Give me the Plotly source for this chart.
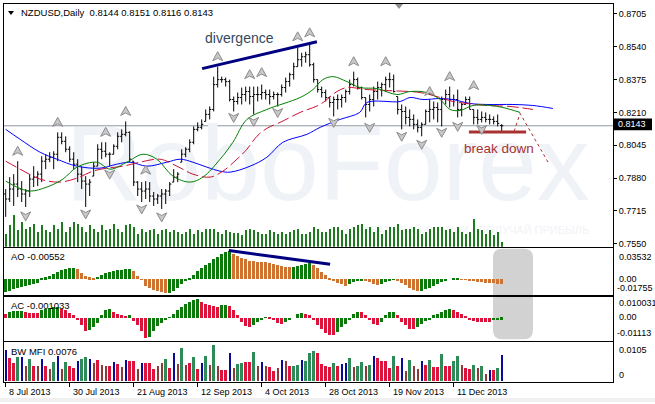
import plotly.graph_objects as go

W, H = 655, 404
def PX(x): return x / W
def PY(y): return 1 - y / H

FONT = "Liberation Sans"

# ---------------- data ----------------
date_idx = [0, 16, 32, 48, 64, 80, 96, 112]
date_labels = ["8 Jul 2013", "30 Jul 2013", "21 Aug 2013", "12 Sep 2013",
               "4 Oct 2013", "28 Oct 2013", "19 Nov 2013", "11 Dec 2013"]

price_ticks = [0.8705, 0.8540, 0.8375, 0.8210, 0.8045, 0.7880, 0.7715, 0.7550]

price_high = [0.7825,0.7885,0.7900,0.7965,0.7865,0.7825,0.7900,0.7940,0.7915,0.7990,
              0.8000,0.8010,0.8015,0.8110,0.8110,0.8090,0.8040,0.8010,0.7975,0.7940,
              0.7890,0.7875,0.7960,0.8050,0.8060,0.8060,0.8010,0.8050,0.8110,0.8125,
              0.8165,0.8115,0.7965,0.7865,0.7860,0.7865,0.7860,0.7810,0.7800,0.7825,
              0.7825,0.7860,0.7925,0.7910,0.8025,0.8035,0.8075,0.8140,0.8160,0.8175,
              0.8225,0.8240,0.8390,0.8440,0.8390,0.8385,0.8375,0.8290,0.8310,0.8335,
              0.8340,0.8340,0.8340,0.8340,0.8350,0.8325,0.8325,0.8315,0.8310,0.8350,
              0.8385,0.8410,0.8460,0.8535,0.8510,0.8515,0.8560,0.8460,0.8375,0.8340,
              0.8325,0.8290,0.8290,0.8300,0.8300,0.8325,0.8375,0.8415,0.8385,0.8340,
              0.8285,0.8300,0.8340,0.8365,0.8360,0.8390,0.8410,0.8400,0.8290,0.8250,
              0.8240,0.8225,0.8200,0.8175,0.8160,0.8225,0.8275,0.8265,0.8260,0.8290,
              0.8325,0.8340,0.8300,0.8325,0.8260,0.8290,0.8290,0.8225,0.8225,0.8215,
              0.8210,0.8200,0.8190,0.8200,0.8151]
price_low = [0.7685,0.7760,0.7740,0.7785,0.7760,0.7735,0.7785,0.7835,0.7840,0.7860,
             0.7925,0.7960,0.7925,0.7965,0.8050,0.8010,0.7960,0.7925,0.7860,0.7825,
             0.7735,0.7790,0.7890,0.7940,0.7975,0.7985,0.7940,0.8000,0.8025,0.8060,
             0.8090,0.7960,0.7840,0.7790,0.7760,0.7775,0.7760,0.7740,0.7750,0.7725,
             0.7750,0.7790,0.7860,0.7860,0.7960,0.7985,0.8010,0.8050,0.8115,0.8125,
             0.8165,0.8175,0.8215,0.8335,0.8360,0.8340,0.8265,0.8215,0.8250,0.8250,
             0.8265,0.8250,0.8200,0.8265,0.8275,0.8275,0.8250,0.8275,0.8240,0.8290,
             0.8310,0.8340,0.8375,0.8440,0.8440,0.8460,0.8440,0.8360,0.8310,0.8285,
             0.8265,0.8235,0.8190,0.8225,0.8235,0.8260,0.8300,0.8340,0.8325,0.8275,
             0.8185,0.8215,0.8240,0.8275,0.8290,0.8315,0.8335,0.8310,0.8200,0.8125,
             0.8150,0.8140,0.8125,0.8110,0.8090,0.8150,0.8160,0.8175,0.8160,0.8140,
             0.8250,0.8235,0.8240,0.8185,0.8190,0.8250,0.8225,0.8150,0.8150,0.8160,
             0.8160,0.8150,0.8150,0.8140,0.8116]
price_open = [0.7800,0.7775,0.7825,0.7850,0.7825,0.7800,0.7815,0.7875,0.7885,0.7900,
              0.7965,0.7975,0.7985,0.8000,0.8085,0.8065,0.8025,0.7975,0.7950,0.7900,
              0.7865,0.7850,0.7890,0.7940,0.8025,0.8015,0.8000,0.8000,0.8040,0.8090,
              0.8100,0.8110,0.7965,0.7860,0.7825,0.7815,0.7825,0.7790,0.7775,0.7790,
              0.7800,0.7815,0.7860,0.7885,0.7960,0.8000,0.8025,0.8060,0.8125,0.8135,
              0.8165,0.8200,0.8225,0.8350,0.8375,0.8375,0.8365,0.8275,0.8265,0.8285,
              0.8300,0.8315,0.8290,0.8300,0.8300,0.8310,0.8300,0.8290,0.8300,0.8300,
              0.8335,0.8365,0.8400,0.8440,0.8475,0.8490,0.8500,0.8450,0.8375,0.8325,
              0.8310,0.8285,0.8260,0.8275,0.8275,0.8285,0.8315,0.8350,0.8375,0.8335,
              0.8285,0.8250,0.8275,0.8315,0.8335,0.8350,0.8375,0.8375,0.8290,0.8225,
              0.8215,0.8185,0.8175,0.8150,0.8135,0.8150,0.8215,0.8225,0.8235,0.8225,
              0.8275,0.8300,0.8275,0.8275,0.8225,0.8250,0.8275,0.8225,0.8185,0.8175,
              0.8185,0.8175,0.8175,0.8165,0.8144]
price_close = [0.7775,0.7825,0.7850,0.7825,0.7800,0.7815,0.7875,0.7885,0.7900,0.7965,
               0.7975,0.7985,0.8000,0.8085,0.8065,0.8025,0.7975,0.7950,0.7900,0.7865,
               0.7850,0.7860,0.7940,0.8025,0.8015,0.8000,0.8000,0.8040,0.8090,0.8100,
               0.8110,0.7975,0.7860,0.7825,0.7815,0.7825,0.7790,0.7775,0.7790,0.7800,
               0.7815,0.7850,0.7885,0.7900,0.8000,0.8025,0.8060,0.8125,0.8135,0.8150,
               0.8200,0.8225,0.8350,0.8375,0.8375,0.8365,0.8275,0.8265,0.8285,0.8300,
               0.8315,0.8290,0.8300,0.8300,0.8310,0.8300,0.8290,0.8300,0.8300,0.8335,
               0.8365,0.8400,0.8440,0.8475,0.8490,0.8500,0.8450,0.8375,0.8325,0.8310,
               0.8285,0.8260,0.8275,0.8275,0.8285,0.8315,0.8350,0.8375,0.8335,0.8285,
               0.8250,0.8275,0.8315,0.8335,0.8350,0.8375,0.8375,0.8315,0.8225,0.8215,
               0.8185,0.8175,0.8150,0.8135,0.8150,0.8215,0.8225,0.8235,0.8225,0.8275,
               0.8300,0.8275,0.8275,0.8225,0.8250,0.8275,0.8225,0.8185,0.8175,0.8185,
               0.8175,0.8175,0.8165,0.8155,0.8143]

tick_volume = [12000,20200,29400,15600,23000,16600,18400,21200,13800,20200,
               15600,13800,20200,16600,23000,13800,18400,23000,21200,18400,
               13800,20200,16600,13800,20200,15600,16600,21200,16600,13800,
               20200,21200,18400,12000,16600,13800,15600,16600,12000,15600,
               16600,13800,15600,13800,12000,13800,16600,12000,15600,13800,
               16600,16600,16600,13800,12000,15600,13800,12900,12900,11000,
               15600,16600,15600,13800,12000,12000,15600,13800,12000,13800,
               12000,13800,15600,16600,12000,12000,13800,18400,16600,13800,
               13800,16600,18400,18400,15600,12000,16600,18400,20200,21200,
               16600,18400,13800,18400,12000,15600,18400,18400,21200,15600,
               16600,16600,18400,16600,12000,13800,16600,18400,18400,18400,
               15600,16600,13800,18400,13800,12000,13800,25800,16600,15600,
               12000,15600,11000,13800,4600]

# Alligator-style moving averages (bar position, price)
jaw_x = [0,3.6,8.6,12.8,17.8,23.6,27.8,31.1,35.3,40.3,43.6,46.8,50.3,53.6,56.1,61.1,65.3,
         69.3,75.3,78.6,83.6,88.5,90.3,98.6,101.1,104.3,108.6,111.8,116.1,120.3,126.8,131.8,136.8]
jaw_y = [0.8125,0.8075,0.8010,0.7975,0.7940,0.7930,0.7950,0.7960,0.7940,0.7960,0.7975,0.7960,
         0.7935,0.7915,0.7910,0.7940,0.7985,0.8060,0.8100,0.8135,0.8175,0.8210,0.8260,0.8265,
         0.8285,0.8275,0.8280,0.8275,0.8255,0.8250,0.8250,0.8245,0.8230]
teeth_x = [0,3.6,8.6,13.6,17.8,21.8,25.3,29.3,33.6,38.6,42.8,46.8,51.1,54.3,57.8,60.3,62.8,
           65.3,68.6,73.6,78.6,82.8,85.3,90.3,95.3,103.6,108.6,111.8,115.3,120.3,126.1,131.8]
teeth_y = [0.7965,0.7925,0.7875,0.7860,0.7880,0.7915,0.7930,0.7940,0.7960,0.7975,0.7940,0.7900,
           0.7885,0.7915,0.7975,0.8025,0.8090,0.8130,0.8160,0.8210,0.8250,0.8315,0.8335,0.8325,
           0.8320,0.8310,0.8285,0.8265,0.8255,0.8245,0.8240,0.8225]
lips_x = [0,2.8,6.1,10.3,14.3,17.8,22.8,26.1,30.3,34.3,37.8,41.8,46.1,49.3,53.6,56.8,60.3,
          65.3,73.6,76.8,79.3,81.8,85.3,88.6,92.8,97.8,101.1,105.3,108.6,111.1,113.6,116.8,
          121.1,124.3,128.6]
lips_y = [0.7865,0.7835,0.7815,0.7835,0.7875,0.7935,0.7960,0.7925,0.7960,0.8000,0.7975,0.7890,
          0.7860,0.7885,0.7975,0.8060,0.8175,0.8225,0.8285,0.8325,0.8375,0.8390,0.8365,0.8335,
          0.8330,0.8300,0.8315,0.8310,0.8275,0.8225,0.8220,0.8245,0.8245,0.8235,0.8210]

frac_up_idx = [3, 13, 25, 30, 35, 53, 61, 64, 73, 76, 87, 95, 106, 111, 117]
frac_up_price = [0.8015,0.8160,0.8110,0.8215,0.7920,0.8490,0.8400,0.8410,0.8590,0.8610,
                 0.8465,0.8465,0.8315,0.8390,0.8345]
frac_dn_idx = [5, 20, 26, 34, 39, 57, 62, 68, 82, 91, 99, 104, 109, 113, 119]
frac_dn_price = [0.7690,0.7700,0.7900,0.7725,0.7685,0.8185,0.8165,0.8210,0.8160,0.8135,
                 0.8090,0.8050,0.8110,0.8140,0.8125]

ao = [-0.0160,-0.0140,-0.0120,-0.0105,-0.0090,-0.0078,-0.0066,-0.0055,-0.0040,0.0006,
      0.0025,0.0045,0.0065,0.0090,0.0115,0.0135,0.0142,0.0148,0.0135,0.0075,
      0.0045,0.0025,0.0010,0.0033,0.0055,0.0080,0.0096,0.0110,0.0117,0.0122,
      0.0126,0.0128,0.0100,0.0045,-0.0004,-0.0080,-0.0105,-0.0130,-0.0150,-0.0163,
      -0.0175,-0.0166,-0.0146,-0.0104,-0.0062,-0.0021,0.0021,0.0054,0.0100,0.0137,
      0.0179,0.0208,0.0250,0.0279,0.0312,0.0340,0.03532,0.0320,0.0291,0.0270,
      0.0250,0.0232,0.0225,0.0220,0.0216,0.0212,0.0205,0.0196,0.0180,0.0168,
      0.0158,0.0150,0.0155,0.0166,0.0179,0.0192,0.0205,0.0179,0.0137,0.0096,
      0.0050,0.0021,-0.0012,-0.0042,-0.0062,-0.0083,-0.0062,-0.0035,-0.0025,-0.0015,
      -0.0021,-0.0030,-0.0054,-0.0071,-0.0054,-0.0030,-0.0012,-0.0003,-0.0021,-0.0042,
      -0.0071,-0.0104,-0.0137,-0.0148,-0.0140,-0.0125,-0.0104,-0.0083,-0.0054,-0.0029,
      -0.0012,0.0000,0.0008,0.0012,0.0002,-0.0008,-0.0014,-0.0021,-0.0027,-0.0031,
      -0.0040,-0.0048,-0.0051,-0.0053,-0.00552]

ac = [0.0018,0.0030,0.0034,0.0035,0.0036,0.0030,0.0027,0.0026,0.0025,0.0040,
      0.0048,0.0053,0.0055,0.0056,0.0044,0.0039,0.0027,0.0016,-0.0014,-0.0041,
      -0.0071,-0.0068,-0.0050,-0.0027,0.0016,0.0043,0.0044,0.0030,0.0021,0.0012,
      0.0009,0.0012,-0.0018,-0.0041,-0.0071,-0.01113,-0.0103,-0.0071,-0.0046,-0.0028,
      -0.0014,0.0002,0.0021,0.0039,0.0057,0.0075,0.0084,0.0093,0.010031,0.0084,
      0.0075,0.0066,0.0060,0.0058,0.0066,0.0068,0.0060,0.0039,0.0016,-0.0023,
      -0.0046,-0.0053,-0.0041,-0.0023,-0.0011,-0.0002,-0.0005,-0.0014,-0.0028,-0.0032,
      -0.0023,-0.0014,0.0000,0.0021,0.0025,0.0021,0.0012,-0.0014,-0.0041,-0.0062,
      -0.0082,-0.0094,-0.0095,-0.0077,-0.0050,-0.0032,-0.0014,0.0021,0.0030,0.0029,
      0.0016,-0.0014,-0.0032,-0.0041,-0.0023,0.0016,0.0030,0.0031,0.0012,-0.0023,
      -0.0041,-0.0059,-0.0060,-0.0050,-0.0032,-0.0018,-0.0011,0.0012,0.0021,0.0030,
      0.0043,0.0048,0.0043,0.0030,0.0021,0.0007,-0.0011,-0.0018,-0.0023,-0.0024,
      -0.0025,-0.0026,-0.0014,-0.0011,-0.001033]

bw_mfi = [0.0091,0.0067,0.0053,0.0069,0.0069,0.0043,0.0065,0.0043,0.0043,0.0065,
          0.0043,0.0034,0.0056,0.0072,0.0034,0.0056,0.0043,0.0037,0.0059,0.0065,
          0.0069,0.0065,0.0053,0.0062,0.0048,0.0043,0.0043,0.0056,0.0050,0.0040,
          0.0062,0.0059,0.0057,0.0034,0.0053,0.0053,0.0053,0.0034,0.0043,0.0053,
          0.0065,0.0037,0.0081,0.0050,0.0095,0.0048,0.0053,0.0069,0.0034,0.0053,
          0.0072,0.0048,0.0105,0.0043,0.0031,0.0031,0.0081,0.0038,0.0050,0.0053,
          0.0056,0.0056,0.0084,0.0043,0.0056,0.0043,0.0040,0.0029,0.0038,0.0062,
          0.0059,0.0043,0.0043,0.0048,0.0062,0.0059,0.0081,0.0088,0.0081,0.0050,
          0.0043,0.0040,0.0053,0.0043,0.0050,0.0053,0.0067,0.0040,0.0043,0.0056,
          0.0043,0.0048,0.0072,0.0067,0.0059,0.0057,0.0038,0.0072,0.0043,0.0067,
          0.0029,0.0062,0.0043,0.0034,0.0059,0.0048,0.0062,0.0040,0.0040,0.0078,
          0.0043,0.0043,0.0059,0.0072,0.0048,0.0037,0.0034,0.0048,0.0037,0.0043,
          0.0021,0.0031,0.0031,0.0038,0.0076]
# G = green (MFI up, vol up), R = squat, B = fake, N = fade
bw_state = list("BRRGBNGRNB" "RNGBNGRRBG" "GBNRNNRBRN" "BRRNBRRRNN" "GRBNGNRGRB"
                "GNGNRRBNGG" "RRGNBNRRNB" "NRGGBGGGRR" "RRGRBBGNGG" "NGBRRRRGRB"
                "NGNNBRGRRG" "RRGGNRRGNG" "NBRGB")

# drawn objects (bar position, value)
div_price_x = [49.1, 77.8]
div_price_y = [0.8430, 0.8565]
div_ao_x = [55.8, 81.1]
div_ao_y = [0.0359, 0.0185]
break_x = [115.8, 130.1]
break_y = [0.8112, 0.8112]
proj_x = [127.1, 128.6, 135.6]
proj_y = [0.8115, 0.8205, 0.7960]
last_price = 0.8143

# ---------------- figure ----------------
n = len(price_close)
idx = list(range(n))
XR = [-0.425, 151.825]
PRICE_R = [0.7535, 0.8755]

GREEN = "#0b7a0b"
ORANGE = "#cf7331"
CRIMSON = "#dc143c"
ao_col = [GREEN] + [GREEN if ao[i] > ao[i-1] else ORANGE for i in range(1, n)]
ac_col = [CRIMSON] + [GREEN if ac[i] > ac[i-1] else CRIMSON for i in range(1, n)]
mfi_colors = {"G": "#2e8b57", "R": "#dc143c", "B": "#0a0a9a", "N": "#8b3a3a"}
mfi_width = {"G": 0.75, "R": 0.75, "B": 0.25, "N": 0.25}

fig = go.Figure()

# watermark on base axis (drawn below overlays)
fig.add_trace(go.Scatter(x=[80.5], y=[0.7905], mode="text", text=["RoboForex"],
                         textfont=dict(family=FONT, size=106, color="#eff2f7"),
                         xaxis="x", yaxis="y", hoverinfo="skip"))
fig.add_trace(go.Scatter(x=[115], y=[0.7615], mode="text", text=["ЗАРАБАТЫВАЙ С НАМИ - ПОЛУЧАЙ ПРИБЫЛЬ"],
                         textfont=dict(family=FONT, size=11, color="#f1f3f7"),
                         xaxis="x", yaxis="y", hoverinfo="skip"))

# volumes
fig.add_trace(go.Bar(x=idx, y=tick_volume, width=0.25, marker=dict(color="#1f7a1f", line=dict(width=0)),
                     xaxis="x", yaxis="y5", hoverinfo="skip"))

# price bars
fig.add_trace(go.Ohlc(x=idx, open=price_open, high=price_high, low=price_low, close=price_close,
                      increasing=dict(line=dict(color="black", width=1)),
                      decreasing=dict(line=dict(color="black", width=1)),
                      tickwidth=0.4, xaxis="x", yaxis="y6", hoverinfo="skip"))

fig.add_trace(go.Scatter(x=jaw_x, y=jaw_y, mode="lines", line=dict(color="#0000ff", width=1, shape="spline"),
                         xaxis="x", yaxis="y6", hoverinfo="skip"))
fig.add_trace(go.Scatter(x=teeth_x, y=teeth_y, mode="lines",
                         line=dict(color="#cc1133", width=1, shape="spline", dash="12px,4px"),
                         xaxis="x", yaxis="y6", hoverinfo="skip"))
fig.add_trace(go.Scatter(x=lips_x, y=lips_y, mode="lines", line=dict(color="#008000", width=1, shape="spline"),
                         xaxis="x", yaxis="y6", hoverinfo="skip"))
fig.add_trace(go.Scatter(x=proj_x, y=proj_y, mode="lines", line=dict(color="#a83232", width=1, dash="dot"),
                         xaxis="x", yaxis="y6", hoverinfo="skip"))

# AO / AC / MFI
fig.add_trace(go.Bar(x=idx, y=ao, width=0.75, marker=dict(color=ao_col, line=dict(width=0)),
                     xaxis="x2", yaxis="y2", hoverinfo="skip"))
fig.add_trace(go.Bar(x=idx, y=ac, width=0.75, marker=dict(color=ac_col, line=dict(width=0)),
                     xaxis="x3", yaxis="y3", hoverinfo="skip"))
fig.add_trace(go.Bar(x=idx, y=bw_mfi, width=[mfi_width[s] for s in bw_state],
                     marker=dict(color=[mfi_colors[s] for s in bw_state], line=dict(width=0)),
                     xaxis="x4", yaxis="y4", hoverinfo="skip"))

# ---------------- axes ----------------
xdom = [PX(4), PX(613)]
frame = dict(showline=True, linecolor="black", linewidth=1, mirror=True, showgrid=False, zeroline=False)

def xax(anchor, **kw):
    d = dict(domain=xdom, range=XR, anchor=anchor, showticklabels=False, ticks="", fixedrange=True, **frame)
    d.update(kw)
    return d

layout = dict(
    width=W, height=H, margin=dict(l=0, r=0, t=0, b=0),
    paper_bgcolor="white", plot_bgcolor="rgba(0,0,0,0)",
    showlegend=False, hovermode=False, bargap=0,
    font=dict(family=FONT, size=9, color="black"),
    xaxis=xax("y", rangeslider=dict(visible=False)),
    xaxis2=xax("y2", matches="x"),
    xaxis3=xax("y3", matches="x"),
    xaxis4=xax("y4", matches="x", tickvals=date_idx, ticktext=[""] * len(date_idx),
               ticks="outside", ticklen=4, tickcolor="black"),
    yaxis=dict(domain=[PY(248), PY(4)], range=PRICE_R, anchor="x", side="right",
               tickvals=price_ticks, ticktext=[f"{v:.4f}" for v in price_ticks],
               ticks="outside", ticklen=3, tickcolor="black",
               tickfont=dict(family=FONT, size=9), **frame),
    yaxis5=dict(overlaying="y", range=[0, 224480], visible=False),
    yaxis6=dict(overlaying="y", range=PRICE_R, visible=False),
    yaxis2=dict(domain=[PY(296.7), PY(249)], range=[-0.0202, 0.0393], anchor="x2",
                showticklabels=False, ticks="", **frame),
    yaxis3=dict(domain=[PY(342.3), PY(298.3)], range=[-0.01242, 0.01103], anchor="x3",
                showticklabels=False, ticks="", **frame),
    yaxis4=dict(domain=[PY(384), PY(344)], range=[-0.00014, 0.01126], anchor="x4",
                showticklabels=False, ticks="", **frame),
)
fig.update_layout(**layout)

# ---------------- shapes ----------------
shapes = []
# rounded grey highlight
x0, x1 = PX(493), PX(533)
yt, yb = PY(250), PY(341)
rx, ry = 9 / W, 9 / H
path = (f"M{x0+rx},{yt} L{x1-rx},{yt} Q{x1},{yt} {x1},{yt-ry} L{x1},{yb+ry} Q{x1},{yb} {x1-rx},{yb} "
        f"L{x0+rx},{yb} Q{x0},{yb} {x0},{yb+ry} L{x0},{yt-ry} Q{x0},{yt} {x0+rx},{yt} Z")
shapes.append(dict(type="path", xref="paper", yref="paper", path=path, fillcolor="#d2d2d2",
                   line=dict(width=0), layer="below"))
# current price line
shapes.append(dict(type="line", xref="paper", yref="y6", x0=PX(4), x1=PX(613), y0=last_price, y1=last_price,
                   line=dict(color="#8e98a3", width=1), layer="below"))
# divergence lines
shapes.append(dict(type="line", xref="x", yref="y6", x0=div_price_x[0], x1=div_price_x[1],
                   y0=div_price_y[0], y1=div_price_y[1], line=dict(color="#000080", width=3)))
shapes.append(dict(type="line", xref="x2", yref="y2", x0=div_ao_x[0], x1=div_ao_x[1],
                   y0=div_ao_y[0], y1=div_ao_y[1], line=dict(color="#000080", width=3)))
# break down line
shapes.append(dict(type="line", xref="x", yref="y6", x0=break_x[0], x1=break_x[1],
                   y0=break_y[0], y1=break_y[1], line=dict(color="#a83232", width=3)))
# fractal arrows
up_path = "M0,5 L5,-4 L0,-1.5 L-5,-4 Z"
dn_path = "M0,-5 L5,4 L0,1.5 L-5,4 Z"
for xi, yv in zip(frac_up_idx, frac_up_price):
    shapes.append(dict(type="path", xref="x", yref="y6", xsizemode="pixel", ysizemode="pixel",
                       xanchor=xi, yanchor=yv, path=up_path, fillcolor="#c8c8c8",
                       line=dict(color="#8c8c8c", width=1)))
for xi, yv in zip(frac_dn_idx, frac_dn_price):
    shapes.append(dict(type="path", xref="x", yref="y6", xsizemode="pixel", ysizemode="pixel",
                       xanchor=xi, yanchor=yv, path=dn_path, fillcolor="#c8c8c8",
                       line=dict(color="#8c8c8c", width=1)))
# title triangle and chart-shift marker
shapes.append(dict(type="path", xref="paper", yref="paper",
                   path=f"M{PX(8)},{PY(11)} L{PX(14)},{PY(11)} L{PX(11)},{PY(15)} Z",
                   fillcolor="black", line=dict(width=0)))
shapes.append(dict(type="path", xref="paper", yref="paper",
                   path=f"M{PX(395)},{PY(4)} L{PX(403)},{PY(4)} L{PX(399)},{PY(9)} Z",
                   fillcolor="#909090", line=dict(width=0)))
# current price box
shapes.append(dict(type="rect", xref="paper", yref="paper", x0=PX(613), x1=PX(652), y0=PY(131), y1=PY(119),
                   fillcolor="black", line=dict(width=0)))
# bottom strip
shapes.append(dict(type="rect", xref="paper", yref="paper", x0=0, x1=1, y0=0, y1=PY(400),
                   fillcolor="#f0f0f0", line=dict(width=0), layer="below"))
fig.update_layout(shapes=shapes)

# ---------------- annotations ----------------
ann = []
def label(x, y, text, size=9, color="black", anchor="left", **kw):
    ann.append(dict(xref="paper", yref="paper", x=PX(x), y=PY(y), text=text, showarrow=False,
                    xanchor=anchor, yanchor="middle", font=dict(family=FONT, size=size, color=color), **kw))

label(19, 13, "NZDUSD,Daily  0.8144 0.8151 0.8116 0.8143", size=9.5)
label(9, 258, "AO -0.00552", size=9.5)
label(9, 307, "AC -0.001033", size=9.5)
label(9, 353, "BW MFI 0.0076", size=9.5)
label(616, 125, f"{last_price:.4f}", color="white")
label(617, 258, "0.03532")
label(617, 280, "0.00")
label(615, 289.5, "-0.01755")
label(617, 305, "0.010031")
label(617, 318.5, "0.00")
label(615, 335, "-0.01113")
label(617, 352, "0.0105")
label(617, 377, "0")
label(203, 38, "divergence", size=14, color="#34495e")
label(462, 149, "break down", size=13.5, color="#a83232")
for xi, t in zip(date_idx, date_labels):
    ann.append(dict(xref="x4", yref="paper", x=xi, y=PY(394), text=t, showarrow=False, xanchor="left",
                    xshift=1, yanchor="middle", font=dict(family=FONT, size=9, color="black")))
fig.update_layout(annotations=ann)

fig.write_html("out.html", config={"displayModeBar": False},
               post_script="document.body.style.margin='0px';document.body.style.overflow='hidden';")
